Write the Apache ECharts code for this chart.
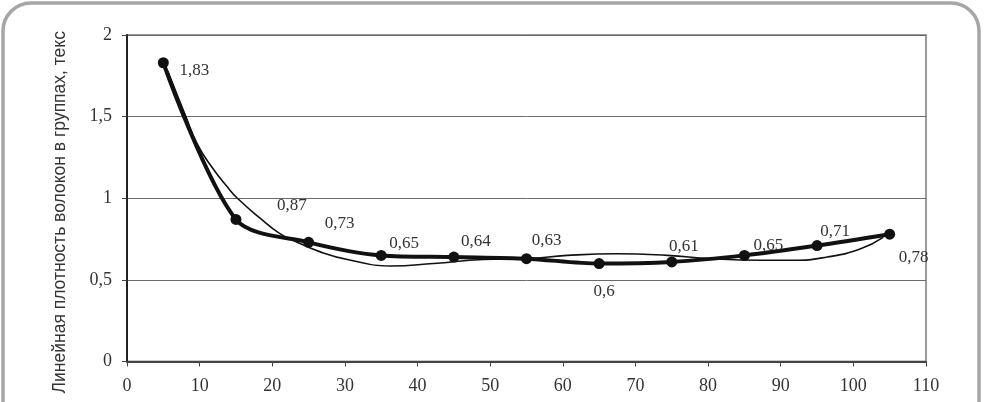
<!DOCTYPE html>
<html>
<head>
<meta charset="utf-8">
<script src="https://cdn.jsdelivr.net/npm/echarts@6/dist/echarts.min.js"></script>
<style>
html,body{margin:0;padding:0;background:#fff;}
#chart{width:985px;height:402px;}
</style>
</head>
<body>
<div id="chart"></div>
<script>
// Data
const xValues = [5, 15, 25, 35, 45, 55, 65, 75, 85, 95, 105];
const density = [1.83, 0.87, 0.73, 0.65, 0.64, 0.63, 0.6, 0.61, 0.65, 0.71, 0.78];
const trendX = [5.6, 8.1, 9.7, 11.7, 13.8, 15.2, 18.4, 21, 23, 26.7, 30.8, 36.3, 42.2, 49.1, 55.2, 60.6, 67.5, 74.4, 80.3, 87.2, 91.7, 96.4, 101, 104.1];
const trendY = [1.78, 1.5, 1.33, 1.19, 1.07, 1.0, 0.875, 0.785, 0.74, 0.67, 0.62, 0.585, 0.60, 0.625, 0.63, 0.65, 0.66, 0.65, 0.63, 0.62, 0.62, 0.64, 0.69, 0.76];
const xTicks = [0, 10, 20, 30, 40, 50, 60, 70, 80, 90, 100, 110];
const yTicks = [0, 0.5, 1, 1.5, 2];
const yTitle = 'Линейная плотность волокон в группах, текс';

// label placement offsets (styling)
const labelOffsets = [[31, 8], [56, -14], [31, -19], [23, -12], [22, -15], [20, -18], [5, 28], [12, -15], [24, -10], [18, -14], [24, 23]];

const fmt = v => String(v).replace('.', ',');

const chart = echarts.init(document.getElementById('chart'), null, {renderer: 'canvas'});
const serif = 'Liberation Serif';

chart.setOption({
  backgroundColor: '#fff',
  animation: false,
  graphic: [{
    type: 'rect',
    shape: {x: 3, y: 3, width: 976, height: 460, r: 28},
    style: {fill: 'none', stroke: '#a6a6a6', lineWidth: 3.5},
    z: -1
  }],
  grid: {left: 127, right: 59, top: 35, bottom: 40.5, show: true, borderColor: '#9a9a9a', borderWidth: 2, backgroundColor: 'transparent'},
  xAxis: {
    type: 'value', min: 0, max: 110, interval: 10,
    axisLine: {show: true, lineStyle: {color: '#444', width: 2}},
    axisTick: {show: true, inside: false, length: 5, lineStyle: {color: '#444'}},
    axisLabel: {fontFamily: serif, fontSize: 18, color: '#333', margin: 16,
      formatter: v => xTicks.includes(v) ? String(v) : ''},
    splitLine: {show: false}
  },
  yAxis: {
    type: 'value', min: 0, max: 2, interval: 0.5,
    name: yTitle, nameLocation: 'middle', nameGap: 58,
    nameTextStyle: {fontFamily: 'Liberation Sans', fontSize: 17.5, color: '#333', padding: [0, 28, 0, 0]},
    axisLine: {show: true, lineStyle: {color: '#222', width: 2}},
    axisTick: {show: true, inside: false, length: 5, lineStyle: {color: '#444'}},
    axisLabel: {fontFamily: serif, fontSize: 18, color: '#333', margin: 15,
      formatter: v => yTicks.includes(v) ? fmt(v) : ''},
    splitLine: {show: true, lineStyle: {color: '#6a6a6a', width: 1}}
  },
  series: [
    {
      type: 'line',
      data: trendX.map((x, i) => [x, trendY[i]]),
      smooth: 0.5,
      showSymbol: false,
      lineStyle: {color: '#111', width: 1.6},
      z: 2
    },
    {
      type: 'line',
      data: xValues.map((x, i) => ({
        value: [x, density[i]],
        label: {offset: labelOffsets[i]}
      })),
      smooth: 0.3,
      symbol: 'circle',
      symbolSize: 11,
      itemStyle: {color: '#111'},
      lineStyle: {color: '#111', width: 4},
      label: {
        show: true, position: 'inside',
        fontFamily: serif, fontSize: 17, color: '#333',
        formatter: p => fmt(p.value[1])
      },
      z: 3
    }
  ]
});
</script>
</body>
</html>
